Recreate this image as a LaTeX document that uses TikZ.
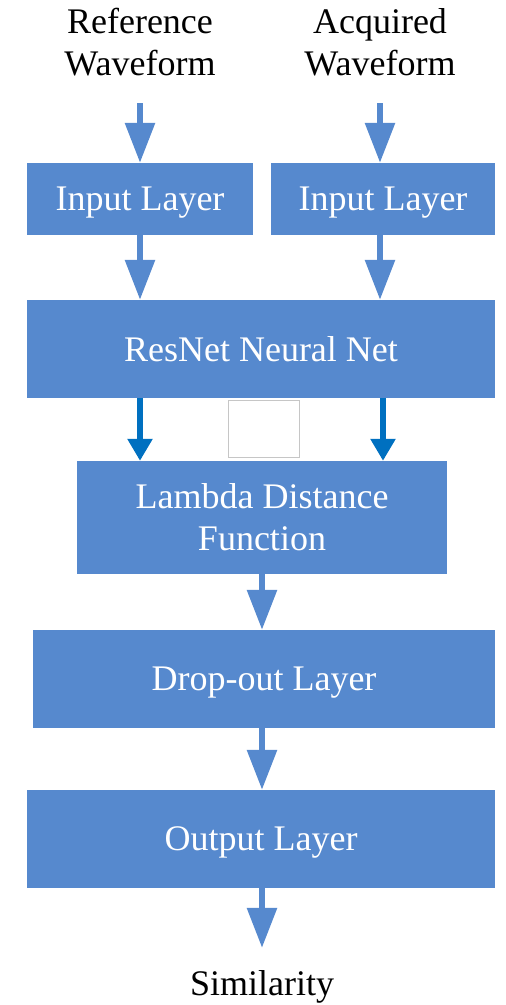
\documentclass[tikz,border=0pt]{standalone}
\usepackage{fontspec}
\setmainfont{Liberation Serif}
\usetikzlibrary{arrows.meta}
\definecolor{layerblue}{RGB}{86,137,206}
\definecolor{mergeblue}{RGB}{0,112,192}
\newcommand{\BigFont}{\fontsize{36}{42}\selectfont}

\begin{document}
\begin{tikzpicture}[x=1pt, y=-1pt,
    layer/.style={rectangle, fill=layerblue, text=white, inner sep=0pt, text depth=0pt, font=\BigFont, align=center},
    wavetext/.style={inner sep=0pt, font=\BigFont, align=center},
    flow/.style={draw=layerblue, line width=6pt, -{Triangle[width=29pt,length=40pt]}},
    mergeflow/.style={flow, draw=mergeblue, -{Triangle[width=24pt,length=22pt]}}]
    \useasboundingbox (0,0) rectangle (506,1005);
    % Draw inputs and output text
    \node [wavetext, anchor=south] (refwave) at (140,76) {Reference\\Waveform};
    \node [wavetext, anchor=south] (acqwave) at (380,76) {Acquired\\Waveform};
    \node [wavetext, anchor=base] (similarity) at (262,995) {Similarity};
    % Draw layers
    \node [layer, minimum width=226pt, minimum height=72pt] (inleft) at (140,199) {Input Layer};
    \node [layer, minimum width=224pt, minimum height=72pt] (inright) at (383,199) {Input Layer};
    \node [layer, minimum width=468pt, minimum height=98pt] (resnet) at (261,349) {ResNet Neural Net};
    \node [layer, minimum width=370pt, minimum height=113pt] (lambda) at (262,517.5) {Lambda Distance\\Function};
    \node [layer, minimum width=462pt, minimum height=98pt] (dropout) at (264,679) {Drop-out Layer};
    \node [layer, minimum width=468pt, minimum height=98pt] (output) at (261,839) {Output Layer};
    \node [draw=gray!45, fill=white, line width=1pt, minimum width=71pt, minimum height=57pt] (blank) at (263.5,428.5) {}; % empty box
    % Draw arrows
    \draw [flow, shorten <=27pt] (refwave.south) -- (refwave.south |- inleft.north);
    \draw [flow, shorten <=27pt] (acqwave.south) -- (acqwave.south |- inright.north);
    \draw [flow] (inleft.south) -- (inleft.south |- resnet.north);
    \draw [flow] (acqwave.south |- inright.south) -- (acqwave.south |- resnet.north);
    \draw [mergeflow] (resnet.south -| inleft.south) -- (lambda.north -| inleft.south); % left branch
    \draw [mergeflow] (resnet.south -| inright.south) -- (lambda.north -| inright.south); % right branch
    \draw [flow] (lambda.south) -- (lambda.south |- dropout.north);
    \draw [flow] (dropout.south -| lambda.south) -- (lambda.south |- output.north);
    \draw [flow, shorten >=22pt] (output.south -| similarity.north) -- (similarity.north);
\end{tikzpicture}
\end{document}
